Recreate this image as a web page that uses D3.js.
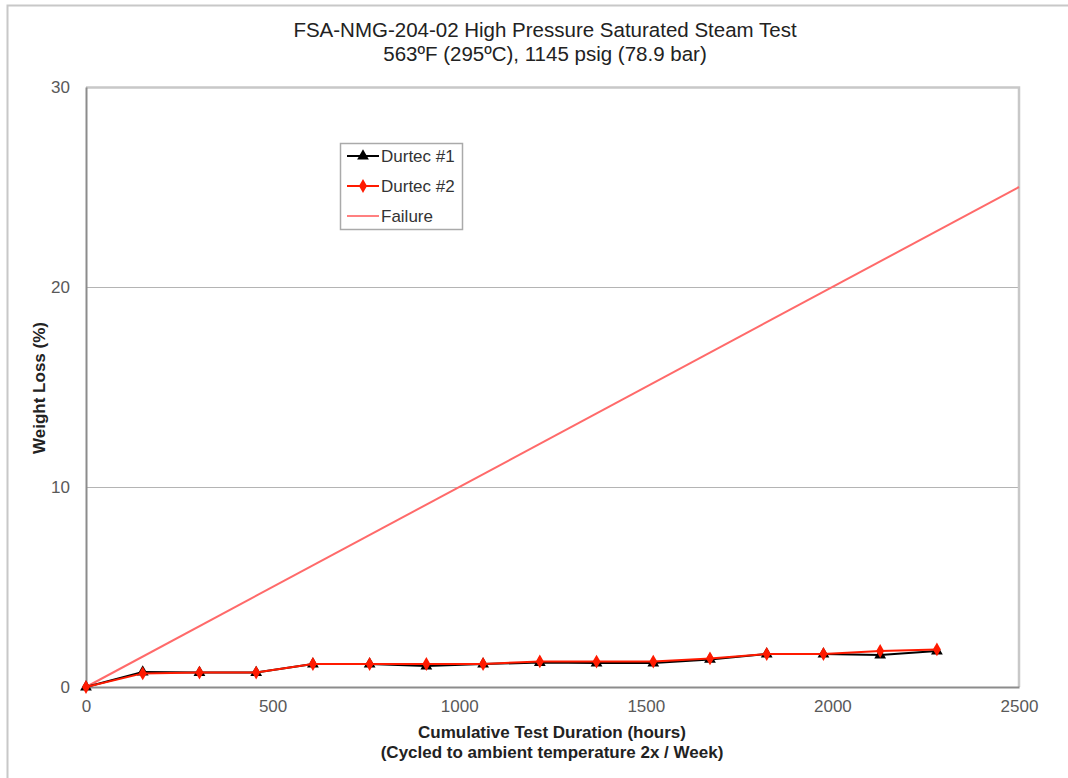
<!DOCTYPE html>
<html>
<head>
<meta charset="utf-8">
<script src="https://cdn.jsdelivr.net/npm/d3@7"></script>
<style>
  html, body { margin: 0; padding: 0; background: #fff; }
  svg { display: block; font-family: "Liberation Sans", Arial, sans-serif; }
</style>
</head>
<body>
<div id="chart"></div>
<script>
/* High pressure saturated steam test: weight loss vs cumulative hours. */

var hours = [0, 152, 304, 456, 608, 760, 912, 1064, 1216, 1368, 1520, 1672, 1824, 1976, 2128, 2280];
var durtec1 = [0, 0.75, 0.72, 0.72, 1.15, 1.15, 1.05, 1.15, 1.22, 1.2, 1.2, 1.38, 1.65, 1.65, 1.6, 1.8];
var durtec2 = [0, 0.68, 0.72, 0.72, 1.15, 1.15, 1.15, 1.15, 1.28, 1.27, 1.27, 1.43, 1.65, 1.65, 1.8, 1.88];
var failureHours = [0, 2500];
var failureLoss = [0, 25];
var xTicks = [0, 500, 1000, 1500, 2000, 2500];
var yTicks = [0, 10, 20, 30];
var titleLines = ["FSA-NMG-204-02 High Pressure Saturated Steam Test", "563\u00BAF (295\u00BAC), 1145 psig (78.9 bar)"];
var xTitleLines = ["Cumulative Test Duration (hours)", "(Cycled to ambient temperature 2x / Week)"];
var yTitle = "Weight Loss (%)";
var legendNames = ["Durtec #1", "Durtec #2", "Failure"];

(function () {
  var d3 = window.d3;
  var width = 1068, height = 778;
  var m = { left: 86, top: 87, right: 1068 - 1019, bottom: 778 - 687 };
  var iw = width - m.left - m.right, ih = height - m.top - m.bottom;

  var svg = d3.select("#chart").append("svg")
    .attr("width", width).attr("height", height);

  // outer chart frame
  svg.append("path")
    .attr("d", "M7.5," + height + "V5.5H" + width)
    .attr("fill", "none").attr("stroke", "#c8c8c8").attr("stroke-width", 2);

  var x = d3.scaleLinear().domain([0, 2500]).range([0, iw]);
  var y = d3.scaleLinear().domain([0, 30]).range([ih, 0]);

  var g = svg.append("g").attr("transform", "translate(" + m.left + "," + m.top + ")");

  // gridlines
  g.selectAll("line.grid").data(yTicks.slice(1, -1)).enter().append("line")
    .attr("class", "grid")
    .attr("x1", 0).attr("x2", iw)
    .attr("y1", function (d) { return y(d) + 0.5; })
    .attr("y2", function (d) { return y(d) + 0.5; })
    .attr("stroke", "#b4b4b4").attr("stroke-width", 1);

  // top & right frame
  g.append("path")
    .attr("d", "M0,0.5H" + iw + "V" + ih)
    .attr("fill", "none").attr("stroke", "#c8c8c8").attr("stroke-width", 2.5);

  // axes
  var fmt = d3.format("d");
  var xAxis = g.append("g").attr("transform", "translate(0," + ih + ")")
    .call(d3.axisBottom(x).tickValues(xTicks).tickFormat(fmt).tickSize(0).tickPadding(13));
  var yAxis = g.append("g")
    .call(d3.axisLeft(y).tickValues(yTicks).tickFormat(fmt).tickSize(0).tickPadding(16));
  [xAxis, yAxis].forEach(function (a) {
    a.select(".domain").attr("stroke", "#8c8c8c").attr("stroke-width", 2);
    a.selectAll("text").attr("fill", "#595959").attr("font-size", 17)
      .attr("font-family", "'Liberation Sans', Arial, sans-serif");
  });

  // failure line
  var line = d3.line()
    .x(function (d) { return x(d[0]); })
    .y(function (d) { return y(d[1]); });
  g.append("path")
    .datum(failureHours.map(function (h, i) { return [h, failureLoss[i]]; }))
    .attr("d", line)
    .attr("fill", "none").attr("stroke", "#ff6a6a").attr("stroke-width", 2);

  var tri = d3.symbol().type(d3.symbolTriangle).size(60);
  var dia = d3.symbol().type(d3.symbolDiamond).size(55);

  function series(vals, color, sym) {
    var pts = hours.map(function (h, i) { return [h, vals[i]]; });
    g.append("path").datum(pts).attr("d", line)
      .attr("fill", "none").attr("stroke", color).attr("stroke-width", 2);
    g.selectAll(null).data(pts).enter().append("path")
      .attr("d", sym)
      .attr("transform", function (d) { return "translate(" + x(d[0]) + "," + y(d[1]) + ")"; })
      .attr("fill", color);
  }
  series(durtec1, "#000", tri);
  series(durtec2, "#ff1a00", dia);

  // titles
  svg.append("g").selectAll("text").data(titleLines).enter().append("text")
    .attr("x", 545).attr("y", function (_d, i) { return 37 + i * 24; })
    .attr("text-anchor", "middle").attr("font-size", 20.5).attr("fill", "#222")
    .text(function (d) { return d; });

  svg.append("g").selectAll("text").data(xTitleLines).enter().append("text")
    .attr("x", 552).attr("y", function (_d, i) { return 738 + i * 20; })
    .attr("text-anchor", "middle").attr("font-size", 17).attr("font-weight", 700).attr("fill", "#222")
    .text(function (d) { return d; });

  svg.append("text")
    .attr("transform", "translate(45,388) rotate(-90)")
    .attr("text-anchor", "middle").attr("font-size", 17).attr("font-weight", 700).attr("fill", "#222")
    .text(yTitle);

  // legend
  var leg = svg.append("g").attr("transform", "translate(340,143)");
  leg.append("rect").attr("x", 0.5).attr("y", 0.5).attr("width", 122).attr("height", 86)
    .attr("fill", "#fff").attr("stroke", "#aaa").attr("stroke-width", 1.5);
  var legColors = ["#000", "#ff1a00", "#ff8080"];
  var legSyms = [tri, dia, null];
  legendNames.forEach(function (name, i) {
    var ry = 13 + i * 30;
    leg.append("line").attr("x1", 7).attr("x2", 39).attr("y1", ry).attr("y2", ry)
      .attr("stroke", legColors[i]).attr("stroke-width", 2);
    if (legSyms[i]) {
      leg.append("path").attr("d", legSyms[i]).attr("transform", "translate(23," + ry + ")")
        .attr("fill", legColors[i]);
    }
    leg.append("text").attr("x", 41).attr("y", ry + 6)
      .attr("font-size", 17).attr("fill", "#333").text(name);
  });
})();
</script>
</body>
</html>
